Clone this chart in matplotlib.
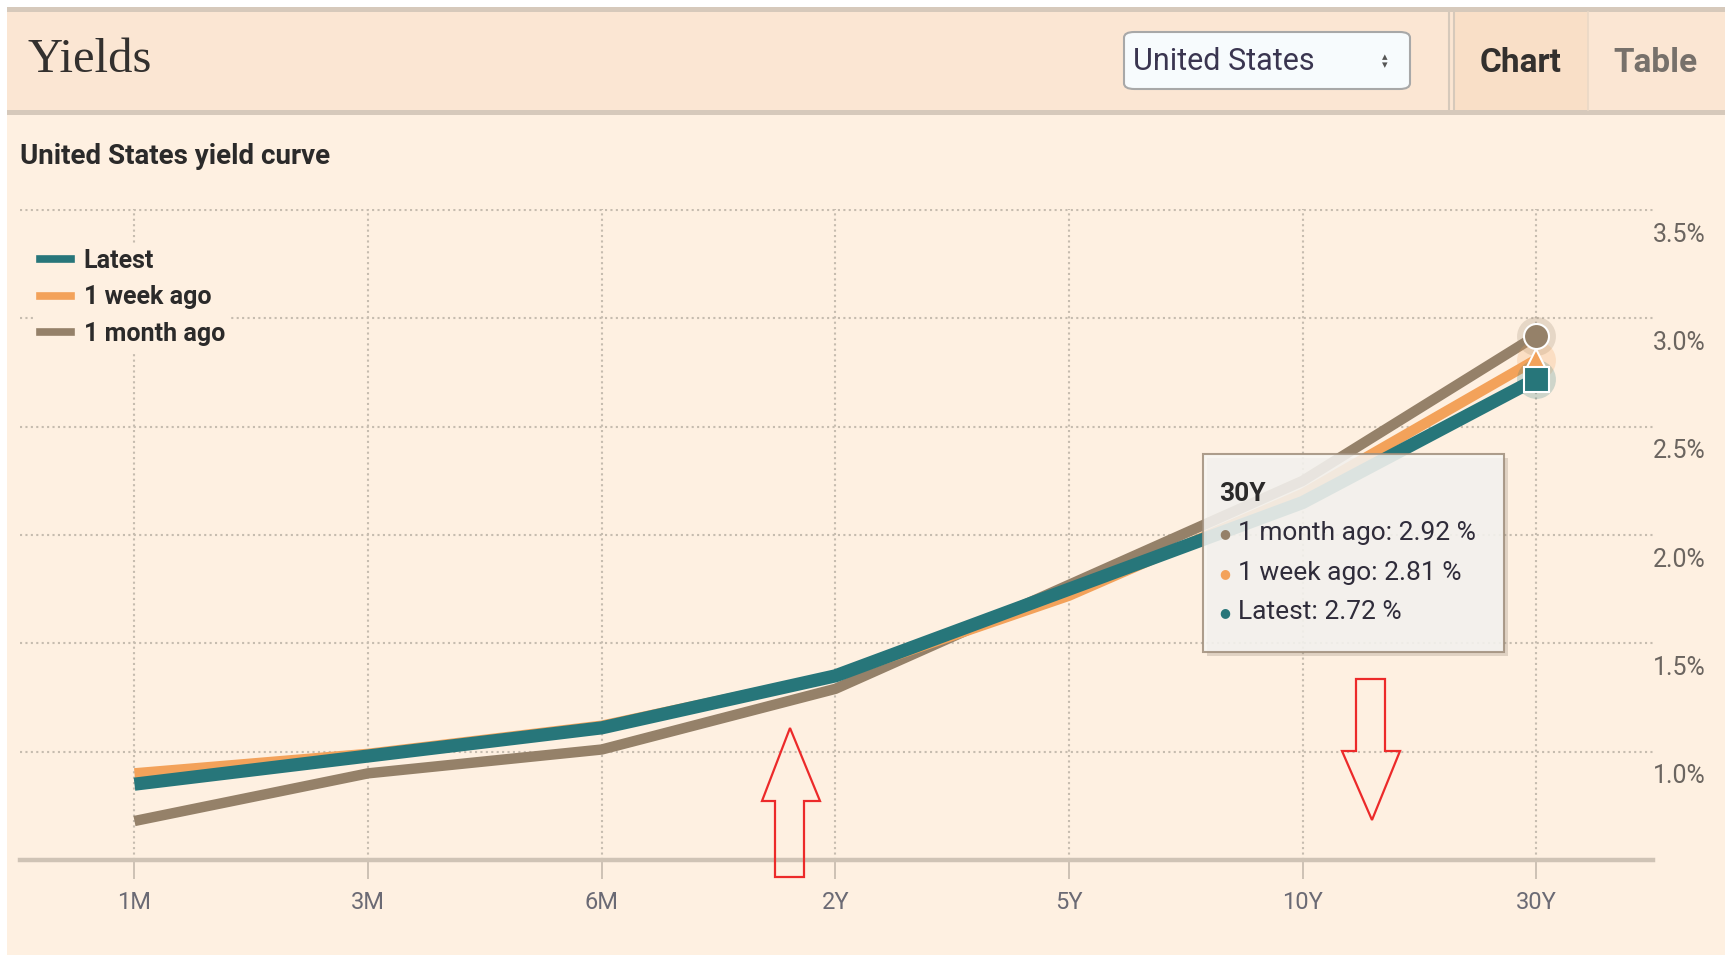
import matplotlib
matplotlib.use("Agg")
import matplotlib.pyplot as plt
from matplotlib.patches import Rectangle, FancyBboxPatch, Polygon
from matplotlib.lines import Line2D
from matplotlib.transforms import ScaledTranslation

# Yield curve data
maturities = ["1M", "3M", "6M", "2Y", "5Y", "10Y", "30Y"]
latest = [0.85, 0.98, 1.11, 1.35, 1.75, 2.15, 2.72]
week_ago = [0.90, 0.99, 1.12, 1.35, 1.72, 2.19, 2.81]
month_ago = [0.68, 0.90, 1.01, 1.29, 1.77, 2.25, 2.92]
y_ticks = [1.0, 1.5, 2.0, 2.5, 3.0, 3.5]

series_names = ["Latest", "1 week ago", "1 month ago"]
teal = "#27767a"
orange = "#f3a25a"
brown = "#958169"
bg = "#fef0e1"
header_bg = "#fbe6d3"
border = "#d6c9bb"

W, H = 1725, 955
SANS = ["Roboto", "DejaVu Sans"]


def px(x, y):
    return (x / W, 1 - y / H)


fig = plt.figure(figsize=(W / 100, H / 100), dpi=100, facecolor="white")

# page background and header band
fig.patches.append(Rectangle(px(7, H), (W - 7) / W, (H - 7) / H, transform=fig.transFigure,
                             facecolor=bg, edgecolor="none", zorder=-10))
fig.patches.append(Rectangle(px(7, 111), (W - 7) / W, 100 / H, transform=fig.transFigure,
                             facecolor=header_bg, edgecolor="none", zorder=-9))
fig.patches.append(Rectangle(px(7, 12), (W - 7) / W, 5 / H, transform=fig.transFigure,
                             facecolor=border, edgecolor="none", zorder=-8))
fig.patches.append(Rectangle(px(7, 115), (W - 7) / W, 5 / H, transform=fig.transFigure,
                             facecolor=border, edgecolor="none", zorder=-8))
# chart tab
fig.patches.append(Rectangle(px(1454, 110), (1588 - 1454) / W, 98 / H, transform=fig.transFigure,
                             facecolor="#f9dfc7", edgecolor="none", zorder=-7))
for xx in (1449, 1454):
    fig.add_artist(Line2D([xx / W, xx / W], [1 - 12 / H, 1 - 110 / H], color=border, lw=1.5, zorder=-6))
fig.add_artist(Line2D([1588 / W, 1588 / W], [1 - 12 / H, 1 - 110 / H], color="#ead8c6", lw=1.2, zorder=-6))

fig.text(*px(28, 60), "Yields", family="Liberation Serif", fontsize=35, color="#33302e", va="center")
fig.text(*px(1521, 63), "Chart", family=SANS, fontsize=24, fontweight="bold", color="#33302e",
         ha="center", va="center")
fig.text(*px(1655, 63), "Table", family=SANS, fontsize=24, fontweight="bold", color="#77716b",
         ha="center", va="center")

# country drop-down
fig.patches.append(FancyBboxPatch(px(1124, 89), (1410 - 1124) / W, (89 - 32) / H, transform=fig.transFigure,
                                  boxstyle="round,pad=0,rounding_size=0.006", facecolor="#f7fbfd",
                                  edgecolor="#a8a8a8", lw=1.5, zorder=-5))
fig.text(*px(1133, 61), "United States", family=SANS, fontsize=22, color="#3a3550", va="center")
fig.text(*px(1385, 61), "\u25B4\n\u25BE", family="DejaVu Sans", fontsize=8, color="#555555",
         ha="center", va="center", linespacing=0.8)

fig.text(*px(20, 157), "United States yield curve", family=SANS, fontsize=20, fontweight="bold",
         color="#2b2a2a", va="center")

# main plot area
ax = fig.add_axes([20 / W, 1 - 860 / H, (1653 - 20) / W, (860 - 209) / H])
ax.set_facecolor("none")
x = list(range(len(maturities)))

ax.plot(x, month_ago, color=brown, lw=7.5, solid_capstyle="butt", solid_joinstyle="miter", zorder=3)
ax.plot(x, week_ago, color=orange, lw=7.5, solid_capstyle="butt", solid_joinstyle="miter", zorder=4)
ax.plot(x, latest, color=teal, lw=9.5, solid_capstyle="butt", solid_joinstyle="miter", zorder=5)

# hover markers on the last point
last = len(maturities) - 1
ax.plot([last], [month_ago[last]], marker="o", ms=28, color=brown, alpha=0.22, mew=0, zorder=6)
ax.plot([last], [week_ago[last]], marker="o", ms=28, color=orange, alpha=0.22, mew=0, zorder=6)
ax.plot([last], [latest[last]], marker="o", ms=28, color=teal, alpha=0.22, mew=0, zorder=6)
ax.plot([last], [month_ago[last]], marker="o", ms=18, color=brown, mec="white", mew=1.5, zorder=7)
ax.plot([last], [week_ago[last]], marker="^", ms=16, color=orange, mec="white", mew=1.5, zorder=8)
ax.plot([last], [latest[last]], marker="s", ms=18, color=teal, mec="white", mew=1.5, zorder=9)

ax.set_xlim(-0.49, 6.5)
ax.set_ylim(0.5, 3.505)
ax.set_xticks(x)
ax.set_xticklabels(maturities)
ax.set_yticks(y_ticks)
ax.set_yticklabels([f"{v:.1f}%" for v in y_ticks])
ax.yaxis.tick_right()

grid_kw = dict(color="#c6bcaf", lw=1.5, linestyle=(0, (1, 1.6)))
ax.grid(True, axis="both", **grid_kw)
ax.set_axisbelow(True)

for side in ("top", "left", "right"):
    ax.spines[side].set_visible(False)
ax.spines["bottom"].set_color("#cfc3b5")
ax.spines["bottom"].set_linewidth(3.2)

ax.tick_params(axis="x", direction="out", length=14, width=1.3, color="#c9beb1", pad=8,
               labelsize=17, labelcolor="#6b6a74")
ax.tick_params(axis="y", length=0, pad=0, labelsize=18, labelcolor="#6b6560")
for lab in ax.get_xticklabels() + ax.get_yticklabels():
    lab.set_family(SANS)
offset = ScaledTranslation(0, -0.22, fig.dpi_scale_trans)
for lab in ax.get_yticklabels():
    lab.set_transform(lab.get_transform() + offset)

handles = [Line2D([], [], color=c, lw=5.5) for c in (teal, orange, brown)]
leg = fig.legend(handles, series_names, loc="upper left", bbox_to_anchor=px(21, 230),
                 bbox_transform=fig.transFigure, frameon=True, facecolor=bg, edgecolor="none",
                 framealpha=1, fancybox=False, handlelength=1.25, handletextpad=0.5,
                 labelspacing=0.5, borderpad=0.25, prop=dict(family=SANS, size=18, weight="bold"))
for t in leg.get_texts():
    t.set_color("#2b2a2a")

# tooltip for the hovered 30Y point
tip_x0, tip_y0, tip_x1, tip_y1 = 1203, 454, 1504, 652
fig.patches.append(Rectangle(px(tip_x0 + 4, tip_y1 + 4), (tip_x1 - tip_x0) / W, (tip_y1 - tip_y0) / H,
                             transform=fig.transFigure, facecolor="#8a7a6a", alpha=0.25,
                             edgecolor="none", zorder=20))
fig.patches.append(Rectangle(px(tip_x0, tip_y1), (tip_x1 - tip_x0) / W, (tip_y1 - tip_y0) / H,
                             transform=fig.transFigure, facecolor="#f7f6f3", alpha=0.86,
                             edgecolor="#a08f7c", lw=1.5, zorder=21))
fig.text(*px(1219, 494), maturities[last], family=SANS, fontsize=19, fontweight="bold",
         color="#2b2a2a", va="center", zorder=22)
tip_rows = [("1 month ago", month_ago[last], brown),
            ("1 week ago", week_ago[last], orange),
            ("Latest", latest[last], teal)]
for i, (name, val, col) in enumerate(tip_rows):
    yy = 533 + i * 39.5
    fig.text(*px(1225, yy + 1), "\u25CF", family="DejaVu Sans", fontsize=9, color=col,
             ha="center", va="center", zorder=22)
    fig.text(*px(1238, yy), f"{name}: {val:.2f} %", family=SANS, fontsize=19, color="#2f2c3a",
             va="center", zorder=22)

# red hand-drawn arrows
up_arrow = [(790, 728), (820, 801), (804, 801), (804, 877), (775, 877), (775, 801), (762, 801)]
down_arrow = [(1372, 820), (1400, 751), (1385, 751), (1385, 679), (1356, 679), (1356, 751), (1342, 751)]
for shape in (up_arrow, down_arrow):
    fig.patches.append(Polygon([px(a, b) for a, b in shape], closed=True, transform=fig.transFigure,
                               facecolor="none", edgecolor="#ec2a2a", lw=1.6, zorder=15))

fig.savefig("out.png", dpi=100, facecolor=fig.get_facecolor())
